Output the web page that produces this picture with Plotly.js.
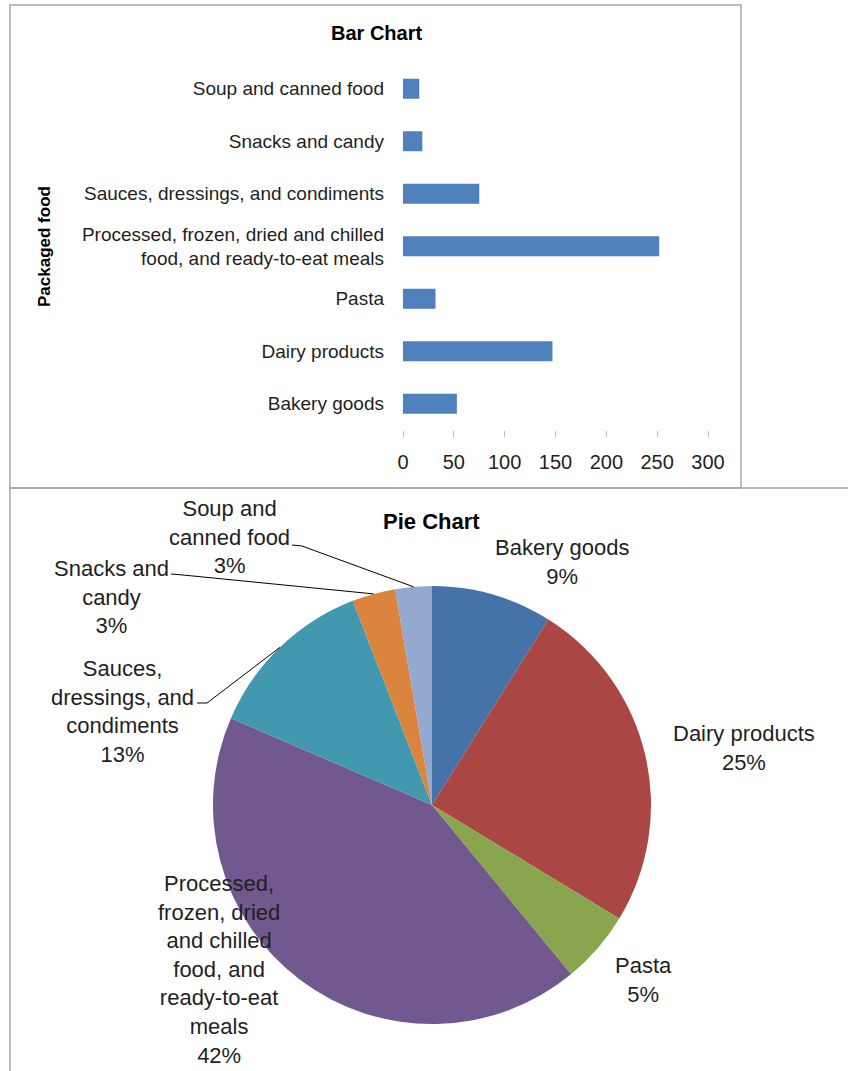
<!DOCTYPE html>
<html>
<head>
<meta charset="utf-8">
<script src="https://cdn.plot.ly/plotly-3.0.1.min.js"></script>
<style>html,body{margin:0;padding:0;background:#fff;}#chart{width:848px;height:1071px;}</style>
</head>
<body>
<div id="chart"></div>
<script>
// ---- data ----
const categories = ['Bakery goods','Dairy products','Pasta','Processed, frozen, dried and chilled food, and ready-to-eat meals','Sauces, dressings, and condiments','Snacks and candy','Soup and canned food'];
const values = [53, 147, 32, 252, 75, 19, 16];
const barTickText = ['Bakery goods','Dairy products','Pasta','Processed, frozen, dried and chilled<br>food, and ready-to-eat meals','Sauces, dressings, and condiments','Snacks and candy','Soup and canned food'];
const pieLabelText = ['Bakery goods','Dairy products','Pasta','Processed,<br>frozen, dried<br>and chilled<br>food, and<br>ready-to-eat<br>meals','Sauces,<br>dressings, and<br>condiments','Snacks and<br>candy','Soup and<br>canned food'];
const xTickVals = [0, 50, 100, 150, 200, 250, 300];
const pieColors = ['#4572A7','#AA4643','#89A54E','#71588F','#4198AF','#DB843D','#93A9CF'];
const barColor = '#4F81BD';

// ---- layout helpers (pixel -> paper) ----
const W = 848, H = 1071;
const px = x => x / W;
const py = y => 1 - y / H;
const FONT = 'Liberation Sans, Arial, sans-serif';
const TXT = '#1f1f1f';

// pie geometry (layout)
const pieCx = 432, pieCy = 805, pieR = 219;
const labelPos = [[562,562],[744,748],[643,980],[219,969],[122,711],[111,597],[229,537]];
const leaderStart = {6: [[292,545],[302,546]], 5: [[171,574],[183,575]], 4: [[197,703],[207,703]]};

const total = values.reduce((a,b)=>a+b,0);

const barTrace = {
  type: 'bar', orientation: 'h',
  y: categories, x: values,
  marker: {color: barColor, line: {width: 0}},
  width: 0.38,
  xaxis: 'x', yaxis: 'y',
  hoverinfo: 'x+y'
};

const pieTrace = {
  type: 'pie',
  labels: categories, values: values,
  sort: false, direction: 'clockwise', rotation: 0,
  marker: {colors: pieColors, line: {width: 0}},
  textinfo: 'none',
  showlegend: false,
  domain: {x: [px(pieCx - pieR), px(pieCx + pieR)], y: [py(pieCy + pieR), py(pieCy - pieR)]}
};

const ann = (text, x, y, size, extra) => Object.assign({
  text: text, x: px(x), y: py(y), xref: 'paper', yref: 'paper',
  xanchor: 'center', yanchor: 'middle', showarrow: false, align: 'center',
  font: {family: FONT, size: size, color: TXT}
}, extra || {});

const annotations = [
  ann('<b>Bar Chart</b>', 376, 33, 20, {font: {family: FONT, size: 20, color: '#000'}}),
  ann('<b>Pie Chart</b>', 431, 521, 22, {font: {family: FONT, size: 22, color: '#000'}}),
  ann('<b>Packaged food</b>', 44, 247, 17, {textangle: -90, font: {family: FONT, size: 17, color: '#000'}})
];

const shapes = [
  {type: 'rect', xref: 'paper', yref: 'paper', x0: px(10), x1: px(741), y0: py(488), y1: py(5), line: {color: '#a6a6a6', width: 1.5}, layer: 'below'},
  {type: 'rect', xref: 'paper', yref: 'paper', x0: px(10), x1: px(870), y0: py(1090), y1: py(488), line: {color: '#a6a6a6', width: 1.5}, layer: 'below'}
];

let cum = 0;
values.forEach((v, i) => {
  const pct = Math.round(v / total * 100) + '%';
  annotations.push(ann(pieLabelText[i] + '<br>' + pct, labelPos[i][0], labelPos[i][1], 22));
  const mid = (cum + v / 2) / total * 2 * Math.PI;
  cum += v;
  if (leaderStart[i]) {
    const ex = pieCx + pieR * Math.sin(mid);
    const ey = pieCy - pieR * Math.cos(mid);
    const pts = leaderStart[i].concat([[ex, ey]]);
    const path = pts.map((p, k) => (k ? 'L' : 'M') + px(p[0]) + ',' + py(p[1])).join(' ');
    shapes.push({type: 'path', xref: 'paper', yref: 'paper', path: path, line: {color: '#000', width: 1}});
  }
});

const layout = {
  width: W, height: H,
  margin: {l: 0, r: 0, t: 0, b: 0},
  paper_bgcolor: '#fff', plot_bgcolor: 'rgba(0,0,0,0)',
  showlegend: false,
  xaxis: {
    domain: [px(403), px(708)], range: [0, 300],
    tickvals: xTickVals, ticktext: xTickVals.map(String),
    ticks: 'outside', ticklen: 6, tickwidth: 1, tickcolor: '#c0c0c0',
    ticklabelstandoff: 8,
    showline: false, showgrid: false, zeroline: false,
    tickfont: {family: FONT, size: 20, color: TXT},
    anchor: 'y', fixedrange: true
  },
  yaxis: {
    domain: [py(430), py(62.6)],
    type: 'category', categoryorder: 'array', categoryarray: categories,
    tickvals: categories, ticktext: barTickText,
    ticks: '', showline: false, showgrid: false, zeroline: false,
    ticklabelstandoff: 18,
    tickfont: {family: FONT, size: 19, color: TXT},
    anchor: 'x', fixedrange: true
  },
  annotations: annotations,
  shapes: shapes
};

Plotly.newPlot('chart', [barTrace, pieTrace], layout, {displayModeBar: false, staticPlot: true});
</script>
</body>
</html>
